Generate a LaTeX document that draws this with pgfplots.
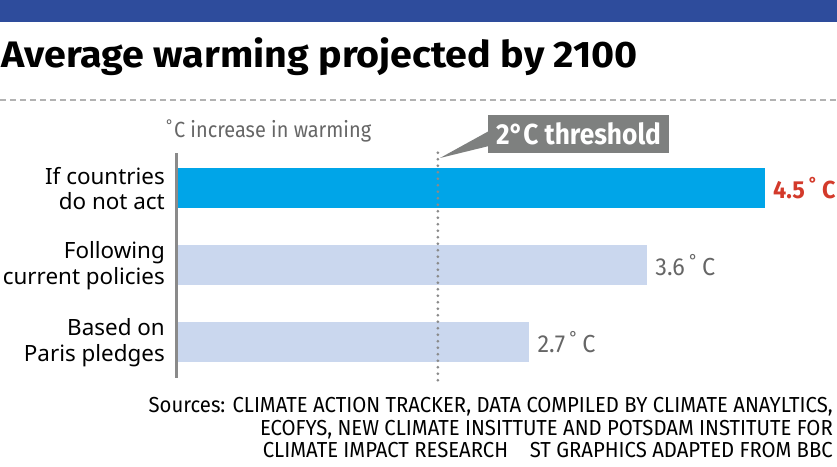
\documentclass[border=0pt]{standalone}
\usepackage{fontspec}
\usepackage{pgfplots}
\pgfplotsset{compat=1.18}
\setmainfont{Noto Sans}
\newfontfamily\titlefont[FakeStretch=1.07]{Fira Sans}
\newfontfamily\condfont[FakeStretch=0.91]{Fira Sans}
\newfontfamily\srcfont[FakeStretch=0.935]{Fira Sans}
\newfontfamily\valfont[FakeStretch=0.95]{Fira Sans}

\definecolor{topblue}{HTML}{2E4C9C}
\definecolor{barblue}{HTML}{00A5E8}
\definecolor{barlight}{HTML}{CAD7EE}
\definecolor{axisgray}{HTML}{8A8A8A}
\definecolor{textgray}{HTML}{666666}
\definecolor{valred}{HTML}{D33A2B}
\definecolor{boxgray}{HTML}{7E807F}

\newcommand{\degr}{\,\textsuperscript{°}\,}

\begin{document}
\begin{tikzpicture}[x=1bp,y=1bp]
\path[use as bounding box] (0,0) rectangle (837,467);
% header
\fill[topblue] (0,467) rectangle (837,445);
\node[anchor=base west, inner sep=0] at (1,399)
  {\titlefont\bfseries\fontsize{37}{40}\selectfont Average warming projected by 2100};
\draw[gray!60, line width=1.2bp, dash pattern=on 6bp off 4bp] (0,367) -- (837,367);

\begin{axis}[
    at={(176bp,89bp)}, anchor=south west,
    scale only axis,
    width=589bp, height=225bp,
    xmin=0, xmax=4.5,
    ymin=-0.461, ymax=2.461,
    xbar, bar width=40bp, bar shift=0pt,
    axis line style={draw=none},
    xtick=\empty,
    ytick={0,1,2},
    yticklabels={{Based on\\Paris pledges},{Following\\current policies},{If countries\\do not act}},
    major tick length=0pt,
    yticklabel style={align=right, inner sep=0pt, xshift=-11bp,
      font=\fontsize{22.5}{25.5}\selectfont},
    clip=false,
    nodes near coords style={anchor=west, inner sep=0pt, xshift=8bp},
]
\addplot[fill=barblue, draw=none,
  nodes near coords={\valfont\bfseries\color{valred}\fontsize{24.7}{26}\selectfont 4.5\degr C}]
  coordinates {(4.5,2)};
\addplot[fill=barlight, draw=none,
  nodes near coords={\valfont\color{textgray}\fontsize{24.7}{26}\selectfont 3.6\degr C}]
  coordinates {(3.6,1)};
\addplot[fill=barlight, draw=none,
  nodes near coords={\valfont\color{textgray}\fontsize{24.7}{26}\selectfont 2.7\degr C}]
  coordinates {(2.7,0)};
\draw[axisgray, line width=3bp] (rel axis cs:0,0) -- (rel axis cs:0,1);
\draw[axisgray, line width=3bp, line cap=round, dash pattern=on 0pt off 6.5bp]
  (axis cs:2,-0.49) -- (axis cs:2,2.50);
\end{axis}

% axis title
\node[anchor=base west, inner sep=0, text=textgray] at (166,329)
  {\condfont\fontsize{22}{24}\selectfont \textsuperscript{°}C increase in warming};
% threshold callout
\fill[boxgray] (488,352) rectangle (669,314);
\fill[boxgray] (489,336) -- (489,321) -- (440,309) -- cycle;
\node[anchor=base, inner sep=0, text=white] at (578.5,322)
  {\fontspec[FakeStretch=0.91]{Fira Sans}\bfseries\fontsize{29}{30}\selectfont 2°C threshold};
% sources
\begin{scope}[every node/.style={anchor=base east, inner sep=0}]
\node at (833,54) {\srcfont\fontsize{21.8}{24}\selectfont Sources: CLIMATE ACTION TRACKER, DATA COMPILED BY CLIMATE ANAYLTICS,};
\node at (833,31.5) {\srcfont\fontsize{21.8}{24}\selectfont ECOFYS, NEW CLIMATE INSITTUTE AND POTSDAM INSTITUTE FOR};
\node at (833,9) {\srcfont\fontsize{21.8}{24}\selectfont CLIMATE IMPACT RESEARCH\quad ST GRAPHICS ADAPTED FROM BBC};
\end{scope}
\end{tikzpicture}
\end{document}
